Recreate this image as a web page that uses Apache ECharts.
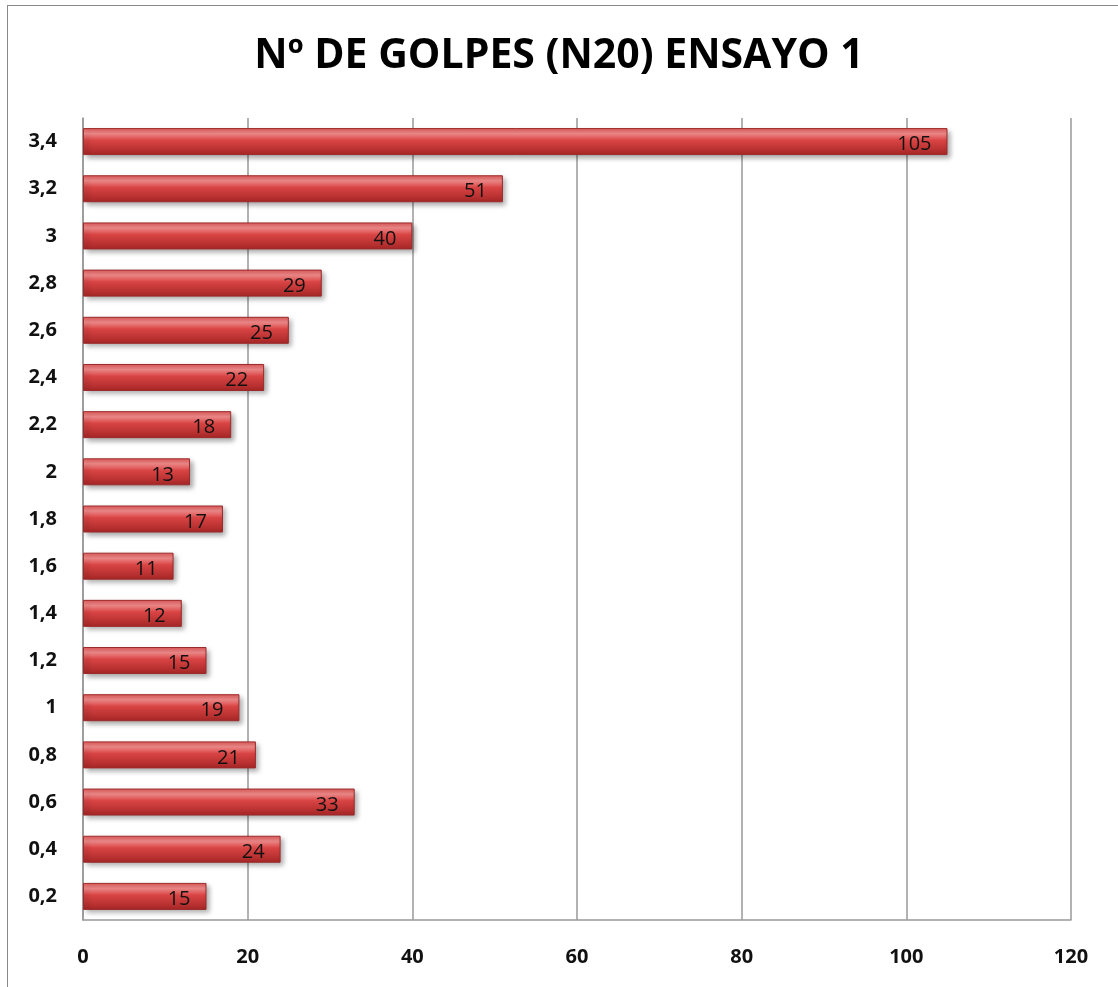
<!DOCTYPE html>
<html>
<head>
<meta charset="utf-8">
<script src="https://cdn.jsdelivr.net/npm/echarts@6/dist/echarts.min.js"></script>
<style>
  html, body { margin: 0; padding: 0; background: #fff; }
  #frame { position: absolute; left: 7px; top: 5px; width: 1120px; height: 990px; border: 1px solid #888; box-sizing: border-box; }
  #chart { width: 1118px; height: 987px; }
</style>
</head>
<body>
<div id="frame"></div>
<div id="chart"></div>
<script>
// categories bottom → top
const categories = ["0,2", "0,4", "0,6", "0,8", "1", "1,2", "1,4", "1,6", "1,8", "2", "2,2", "2,4", "2,6", "2,8", "3", "3,2", "3,4"];
const golpes = [15, 24, 33, 21, 19, 15, 12, 11, 17, 13, 18, 22, 25, 29, 40, 51, 105];
const xTicks = { min: 0, max: 120, interval: 20 };

let chart = echarts.init(document.getElementById("chart"));

let option = {
  backgroundColor: "transparent",
  title: {
    text: "Nº DE GOLPES (N20) ENSAYO 1",
    left: "center",
    top: 31,
    textStyle: { fontFamily: "Open Sans", fontWeight: "bold", fontSize: 41, color: "#000" }
  },
  grid: { left: 83, right: 47, top: 118, bottom: 67, containLabel: false },
  xAxis: {
    type: "value",
    min: xTicks.min,
    max: xTicks.max,
    interval: xTicks.interval,
    axisLine: { show: true, onZero: false, lineStyle: { color: "#999", width: 1.5 } },
    axisTick: { show: false },
    axisLabel: { fontFamily: "Open Sans", fontWeight: "bold", fontSize: 20, color: "#111", margin: 27 },
    splitLine: { show: true, lineStyle: { color: "#999", width: 1.5 } }
  },
  yAxis: {
    type: "category",
    data: categories,
    axisLine: { show: true, lineStyle: { color: "#999", width: 1.5 } },
    axisTick: { show: false },
    axisLabel: { fontFamily: "Open Sans", fontWeight: "bold", fontSize: 20, color: "#111", margin: 26 }
  },
  series: [
    {
      type: "bar",
      data: golpes,
      barWidth: 27,
      itemStyle: {
        color: new echarts.graphic.LinearGradient(0, 0, 0, 1, [
          { offset: 0, color: "#e05858" },
          { offset: 0.2, color: "#f28c8c" },
          { offset: 0.45, color: "#d94444" },
          { offset: 1, color: "#a62626" }
        ]),
        borderColor: "#9c2a2a",
        borderWidth: 1,
        shadowColor: "rgba(0,0,0,0.35)",
        shadowBlur: 5,
        shadowOffsetX: 3,
        shadowOffsetY: 3
      },
      label: {
        show: true,
        position: "insideRight",
        distance: 16,
        offset: [0, 3],
        fontFamily: "Open Sans",
        fontSize: 20,
        color: "#111"
      }
    }
  ]
};

chart.setOption(option);
</script>
</body>
</html>
